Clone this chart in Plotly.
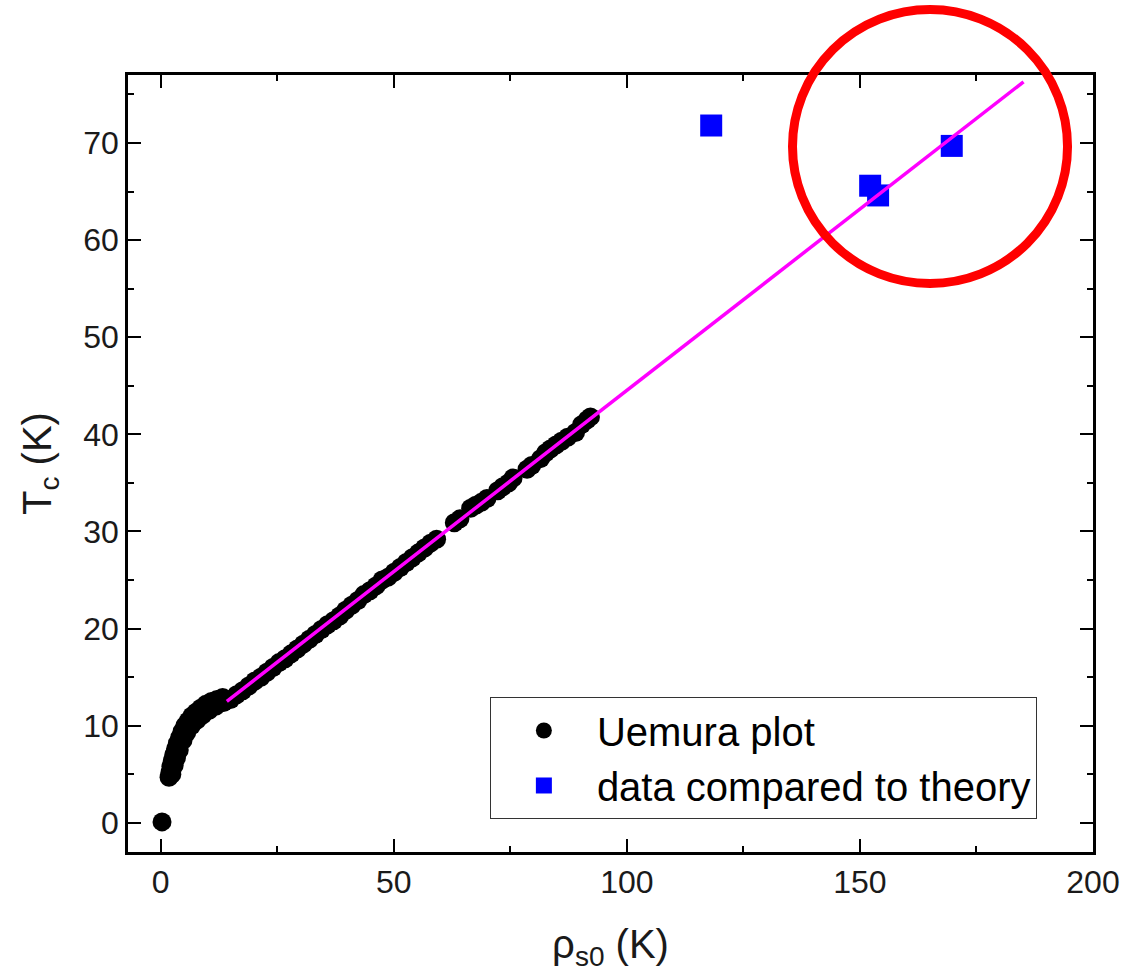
import plotly.graph_objects as go

# Uemura plot data (rho_s0 in K, Tc in K)
uemura_x = [0.3,
            1.8, 2.0, 2.2, 2.5, 2.8, 3.2, 3.6, 4.1, 4.6, 5.2, 5.9, 6.7, 7.6, 8.6, 9.7, 10.9, 12.1, 13.3,
            2.4, 2.9, 3.4, 4.0, 4.8, 5.6, 6.6, 7.8, 9.0, 10.4, 11.8, 13.5,
            15.0, 16.3, 17.6, 18.9, 20.2, 21.5, 22.8, 24.1, 25.4, 26.7, 28.0, 29.3, 30.6, 31.9, 33.2,
            34.5, 35.8, 37.1, 38.4, 39.7, 41.0, 42.3, 43.6, 44.9, 46.2, 47.5, 48.8, 50.1, 51.4, 52.7,
            54.0, 55.3, 56.6, 57.9, 59.2,
            63.0, 64.2, 66.5, 67.6, 68.8, 70.0,
            72.3, 73.4, 74.6, 75.6,
            78.6, 79.6, 81.5, 82.6, 83.6, 84.8, 86.0, 87.3, 89.0, 90.3, 91.5, 92.2]
uemura_y = [0.1,
            4.7, 5.2, 5.8, 6.4, 7.0, 7.6, 8.2, 8.8, 9.4, 10.0, 10.5, 11.0, 11.4, 11.8, 12.2, 12.5, 12.7, 12.9,
            5.0, 5.9, 6.7, 7.5, 8.5, 9.3, 10.0, 10.6, 11.1, 11.6, 12.0, 12.4,
            12.7, 13.2, 13.6, 14.1, 14.6, 15.0, 15.5, 16.0, 16.5, 16.9, 17.4, 17.9, 18.4, 18.9, 19.4,
            19.9, 20.4, 20.8, 21.3, 21.9, 22.4, 22.9, 23.5, 23.9, 24.4, 25.0, 25.3, 25.8, 26.3, 26.8,
            27.3, 27.8, 28.3, 28.8, 29.2,
            30.9, 31.3, 32.4, 32.7, 33.0, 33.4,
            34.2, 34.6, 35.0, 35.5,
            36.4, 36.8, 37.5, 38.1, 38.5, 38.9, 39.3, 39.7, 40.2, 41.0, 41.5, 41.8]

# Data compared to theory
theory_x = [118.1, 152.2, 153.9, 169.7]
theory_y = [71.8, 65.6, 64.6, 69.7]

# Linear fit line endpoints
fit_x = [14.2, 185.1]
fit_y = [12.5, 76.3]

FONT = "Arial, 'Liberation Sans', sans-serif"

fig = go.Figure()
fig.add_trace(go.Scatter(
    x=uemura_x, y=uemura_y, mode="markers", name="Uemura plot",
    marker=dict(symbol="circle", size=19, color="black", line=dict(width=0)),
))
fig.add_trace(go.Scatter(
    x=theory_x, y=theory_y, mode="markers", name="data compared to theory",
    marker=dict(symbol="square", size=22, color="#0000ff", line=dict(width=0)),
))
fig.add_trace(go.Scatter(
    x=fit_x, y=fit_y, mode="lines", showlegend=False,
    line=dict(color="#ff00ff", width=3.5),
))

axis_common = dict(
    showline=True, linecolor="black", linewidth=2.5, mirror="ticks",
    ticks="inside", ticklen=13, tickwidth=2, tickcolor="black",
    showgrid=False, zeroline=False, automargin=False,
    tickfont=dict(family=FONT, size=32, color="#1a1a1a"),
)

fig.update_xaxes(
    range=[-7, 200], tickvals=[0, 50, 100, 150, 200],
    minor=dict(tickvals=[25, 75, 125, 175], ticklen=6, tickwidth=2, tickcolor="black", ticks="inside"),
    title=dict(text="ρ<sub>s0</sub> (K)", font=dict(family=FONT, size=40, color="#1a1a1a"), standoff=36),
    **axis_common,
)
fig.update_yaxes(
    range=[-3, 77], tickvals=[0, 10, 20, 30, 40, 50, 60, 70],
    minor=dict(tickvals=[5, 15, 25, 35, 45, 55, 65, 75], ticklen=6, tickwidth=2, tickcolor="black", ticks="inside"),
    title=dict(text="T<sub>c</sub> (K)", font=dict(family=FONT, size=40, color="#1a1a1a"), standoff=20),
    **axis_common,
)

fig.add_shape(
    type="circle", xref="paper", yref="paper",
    x0=0.6886, x1=0.9736, y0=0.7317, y1=1.0843,
    line=dict(color="#ff0000", width=9), layer="above",
)

fig.update_layout(
    width=1147, height=972,
    margin=dict(l=128, r=54, t=75, b=120),
    paper_bgcolor="white", plot_bgcolor="white",
    legend=dict(
        x=0.375, y=0.1995, xanchor="left", yanchor="top",
        bgcolor="white", bordercolor="#333", borderwidth=1,
        font=dict(family=FONT, size=40, color="black"),
        itemwidth=96,
    ),
    showlegend=True,
)

fig.write_html("out.html")
